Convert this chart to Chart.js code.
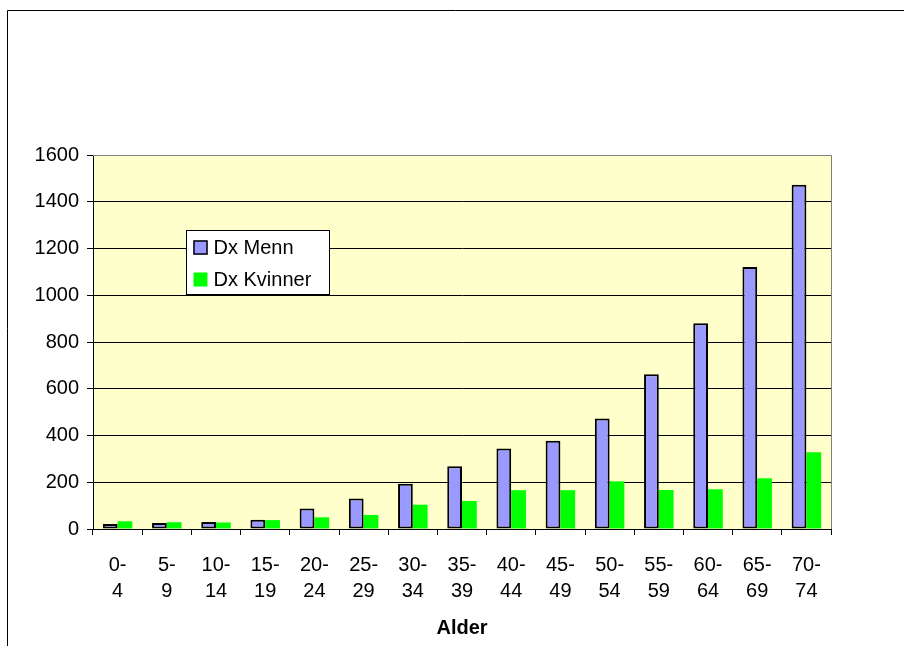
<!DOCTYPE html>
<html>
<head>
<meta charset="utf-8">
<script src="https://cdn.jsdelivr.net/npm/chart.js@4"></script>
<style>
html,body{margin:0;padding:0;background:#fff;}
</style>
</head>
<body>
<canvas id="mycanvas" width="904" height="646"></canvas>
<script>
// data
var ages = [['0-','4'],['5-','9'],['10-','14'],['15-','19'],['20-','24'],['25-','29'],['30-','34'],['35-','39'],
	['40-','44'],['45-','49'],['50-','54'],['55-','59'],['60-','64'],['65-','69'],['70-','74']];
var menn = [21,26,30,40,88,130,194,268,344,378,473,662,880,1121,1473];
var kvinner = [33,29,28,38,50,60,104,120,166,166,204,167,170,217,328];
var yMax = 1600;
var yStep = 200;

var fontFam = "'Liberation Sans', Arial, sans-serif";

// white page, frame, yellow plot area
var backdrop = {
	id: 'backdrop',
	beforeDraw: function(chart){
		var c = chart.ctx, a = chart.chartArea;
		c.save();
		c.fillStyle = '#fff';
		c.fillRect(0,0,chart.width,chart.height);
		c.strokeStyle = '#000';
		c.lineWidth = 1;
		c.beginPath();
		c.moveTo(7.5, chart.height);
		c.lineTo(7.5, 10.5);
		c.lineTo(chart.width, 10.5);
		c.stroke();
		c.fillStyle = '#FFFFCC';
		c.fillRect(a.left, a.top, a.right-a.left, a.bottom-a.top);
		c.restore();
	},
	afterDatasetsDraw: function(chart){
		var c = chart.ctx, a = chart.chartArea;
		c.save();
		c.strokeStyle = '#808080';
		c.lineWidth = 1;
		c.beginPath();
		c.moveTo(a.left, a.top+0.5);
		c.lineTo(a.right+0.5, a.top+0.5);
		c.lineTo(a.right+0.5, a.bottom);
		c.stroke();
		c.restore();
	}
};

// legend box inside the plot
var boxLegend = {
	id: 'boxLegend',
	afterDraw: function(chart){
		var c = chart.ctx, a = chart.chartArea;
		var x = a.left + 93.5, y = a.top + 75.5, w = 143, h = 64;
		c.save();
		c.fillStyle = '#fff';
		c.fillRect(x, y, w, h);
		c.strokeStyle = '#000';
		c.lineWidth = 1;
		c.strokeRect(x, y, w, h);
		c.font = '20px ' + fontFam;
		c.textBaseline = 'middle';
		chart.data.datasets.forEach(function(ds, i){
			var ry = y + 17 + i*32;
			c.fillStyle = ds.backgroundColor;
			c.fillRect(x + 7, ry - 7, 14, 14);
			if (ds.borderWidth) {
				c.strokeStyle = '#000';
				c.lineWidth = 1.5;
				c.strokeRect(x + 7.5, ry - 6.5, 13, 13);
			}
			c.fillStyle = '#000';
			c.fillText(ds.label, x + 27, ry + 1);
		});
		c.restore();
	}
};

var ctx = document.getElementById('mycanvas');
var barGraph = new Chart(ctx, {
	type: 'bar',
	data: {
		labels: ages,
		datasets: [
			{
				label: 'Dx Menn',
				backgroundColor: '#9999FF',
				borderColor: '#000',
				borderWidth: 2,
				borderSkipped: false,
				data: menn
			},
			{
				label: 'Dx Kvinner',
				backgroundColor: '#00FF00',
				borderWidth: 0,
				data: kvinner
			}
		]
	},
	plugins: [backdrop, boxLegend],
	options: {
		responsive: false,
		animation: false,
		datasets: { bar: { categoryPercentage: 0.6, barPercentage: 1.0 } },
		layout: { padding: { top: 155, right: 73, left: 0, bottom: 0 } },
		plugins: {
			legend: { display: false },
			tooltip: { enabled: false }
		},
		scales: {
			x: {
				afterFit: function(s){ s.height = 117; },
				grid: { drawOnChartArea: false, color: '#000', tickLength: 6, offset: true },
				border: { color: '#000', width: 1 },
				ticks: {
					color: '#000',
					padding: 17,
					maxRotation: 0,
					autoSkip: false,
					font: { family: fontFam, size: 20, lineHeight: 1.3 }
				},
				title: {
					display: true,
					text: 'Alder',
					color: '#000',
					padding: { top: 0, bottom: 6 },
					font: { family: fontFam, size: 20, weight: 'bold' }
				}
			},
			y: {
				min: 0,
				max: yMax,
				afterFit: function(s){ s.width = 93; },
				grid: {
					color: function(c){ return c.tick && c.tick.value === yMax ? 'rgba(0,0,0,0)' : '#000'; },
					tickColor: '#000',
					tickLength: 6
				},
				border: { color: '#000', width: 1 },
				ticks: {
					stepSize: yStep,
					color: '#000',
					padding: 8,
					font: { family: fontFam, size: 20 },
					callback: function(v){ return String(v); }
				}
			}
		}
	}
});
</script>
</body>
</html>
